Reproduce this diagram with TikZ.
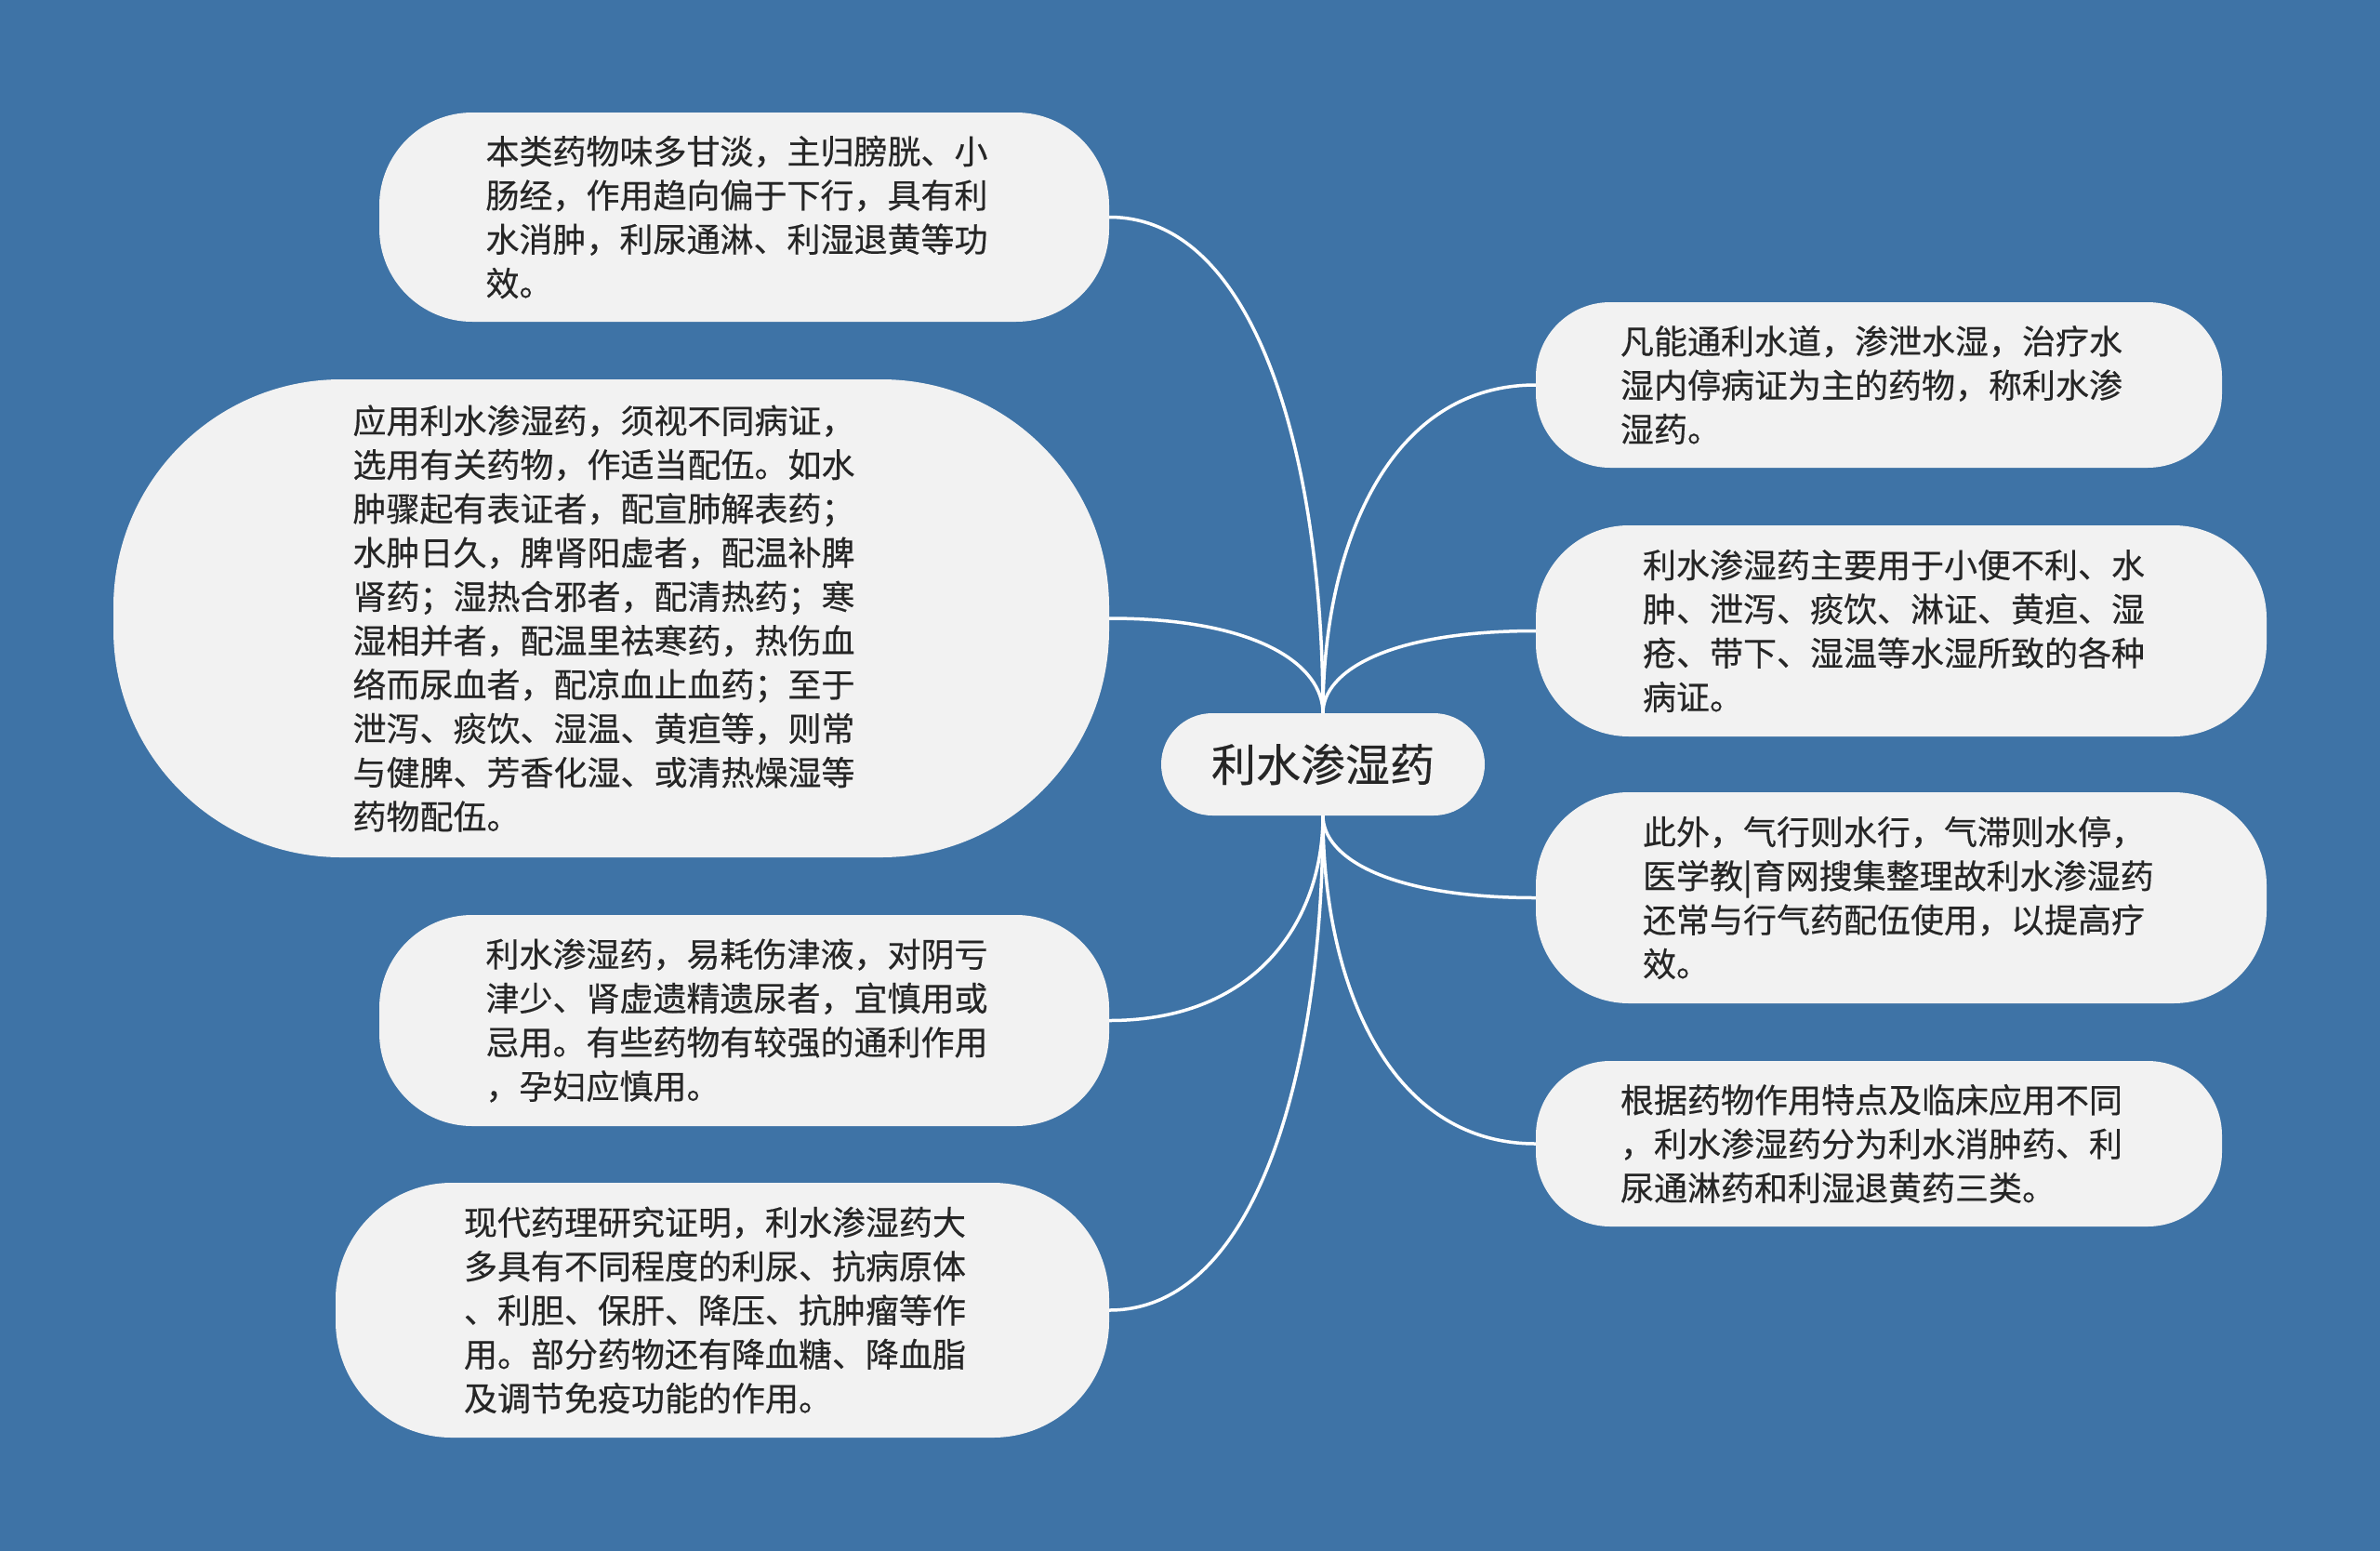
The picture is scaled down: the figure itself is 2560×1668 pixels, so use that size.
\documentclass[tikz,border=0pt]{standalone}
\usepackage{fontspec}
\newfontfamily\cjk[FakeBold=0.4]{Noto Sans CJK SC}
\usetikzlibrary{calc}
\definecolor{bgblue}{HTML}{3E73A6}
\definecolor{boxgray}{HTML}{F2F2F2}
\definecolor{inkgray}{HTML}{262626}
\tikzset{
  leaf/.style={fill=boxgray, text=inkgray, inner sep=0pt, align=left, text width=556pt,
    font=\cjk\fontsize{36}{47.3}\selectfont},
  core/.style={fill=boxgray, text=inkgray, inner sep=0pt, minimum width=348pt, minimum height=110pt,
    rounded corners=55pt, font=\cjk\fontsize{48}{56}\selectfont},
  link/.style={draw=white, line width=3.5pt},
}

\begin{document}
\begin{tikzpicture}[x=1pt, y=-1pt]
  \fill[bgblue] (0,0) rectangle (2560,1668);

  % centre topic
  \node[core] (topic) at (1423,822) {利水渗湿药};

  % left branches
  \node[leaf, minimum width=785pt, minimum height=225pt, rounded corners=100pt] (lt1) at (800.5,233.5)
    {本类药物味多甘淡，主归膀胱、小\\肠经，作用趋向偏于下行，具有利\\水消肿，利尿通淋、利湿退黄等功\\效。};
  \node[leaf, minimum width=1071pt, minimum height=514pt, rounded corners=245pt] (lt2) at (657.5,665)
    {应用利水渗湿药，须视不同病证，\\选用有关药物，作适当配伍。如水\\肿骤起有表证者，配宣肺解表药；\\水肿日久，脾肾阳虚者，配温补脾\\肾药；湿热合邪者，配清热药；寒\\湿相并者，配温里祛寒药，热伤血\\络而尿血者，配凉血止血药；至于\\泄泻、痰饮、湿温、黄疸等，则常\\与健脾、芳香化湿、或清热燥湿等\\药物配伍。};
  \node[leaf, minimum width=785pt, minimum height=227pt, rounded corners=100pt] (lt3) at (800.5,1097.5)
    {利水渗湿药，易耗伤津液，对阴亏\\津少、肾虚遗精遗尿者，宜慎用或\\忌用。有些药物有较强的通利作用\\，孕妇应慎用。};
  \node[leaf, minimum width=832pt, minimum height=274pt, rounded corners=125pt] (lt4) at (777,1409)
    {现代药理研究证明，利水渗湿药大\\多具有不同程度的利尿、抗病原体\\、利胆、保肝、降压、抗肿瘤等作\\用。部分药物还有降血糖、降血脂\\及调节免疫功能的作用。};

  % right branches
  \node[leaf, minimum width=738pt, minimum height=178pt, rounded corners=80pt] (rt1) at (2021,414)
    {凡能通利水道，渗泄水湿，治疗水\\湿内停病证为主的药物，称利水渗\\湿药。};
  \node[leaf, minimum width=786pt, minimum height=227pt, rounded corners=100pt] (rt2) at (2045,678.5)
    {利水渗湿药主要用于小便不利、水\\肿、泄泻、痰饮、淋证、黄疸、湿\\疮、带下、湿温等水湿所致的各种\\病证。};
  \node[leaf, minimum width=786pt, minimum height=227pt, rounded corners=100pt] (rt3) at (2045,965.5)
    {此外，气行则水行，气滞则水停，\\医学教|育网搜集整理故利水渗湿药\\还常与行气药配伍使用，以提高疗\\效。};
  \node[leaf, minimum width=738pt, minimum height=178pt, rounded corners=80pt] (rt4) at (2021,1230)
    {根据药物作用特点及临床应用不同\\，利水渗湿药分为利水消肿药、利\\尿通淋药和利湿退黄药三类。};

  % curved links
  \foreach \leaf/\base/\side in {lt1/north/east, lt2/north/east, lt3/south/east, lt4/south/east,
      rt1/north/west, rt2/north/west, rt3/south/west, rt4/south/west}
    \draw[link] (topic.\base) .. controls ($(topic.\base)!0.5!(topic.\base |- \leaf.\side)$)
      and ($(\leaf.\side)!0.7!(\leaf.\side -| topic.\base)$) .. (\leaf.\side);
\end{tikzpicture}
\end{document}
